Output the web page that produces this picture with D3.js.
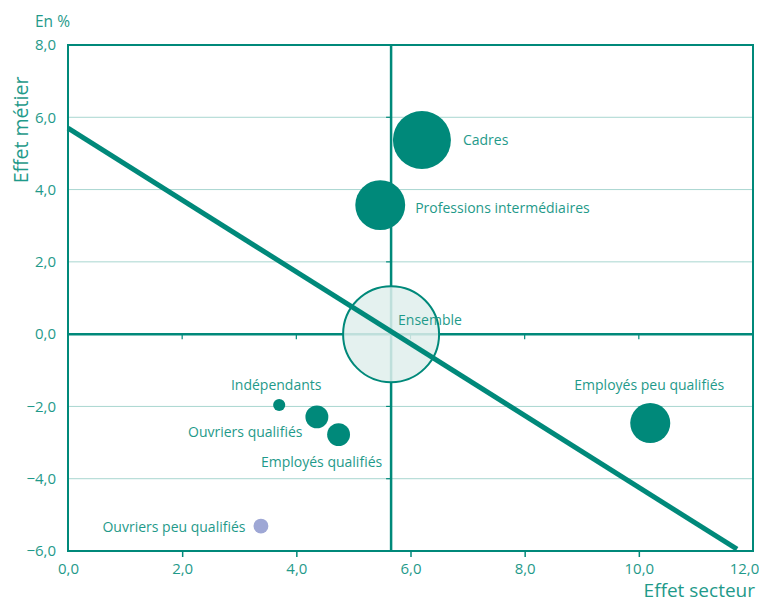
<!DOCTYPE html>
<html>
<head>
<meta charset="utf-8">
<script src="https://cdn.jsdelivr.net/npm/d3@7"></script>
<style>
  body { margin: 0; background: #fff; }
  svg text { font-family: "Open Sans", "Noto Sans", sans-serif; fill: #1f9a8a; }
</style>
</head>
<body>
<svg id="drawing_region"></svg>
<script>
// categories and values (effet secteur, effet metier, poids)
const categories = ["Ensemble", "Cadres", "Professions intermédiaires", "Employés peu qualifiés",
                    "Indépendants", "Ouvriers qualifiés", "Employés qualifiés", "Ouvriers peu qualifiés"];
const effetSecteur = [5.66, 6.2, 5.47, 10.2, 3.70, 4.36, 4.74, 3.38];
const effetMetier  = [0.0, 5.37, 3.57, -2.46, -1.96, -2.29, -2.78, -5.31];
const poids        = [100, 36.5, 27, 17.4, 1.6, 5.7, 5.7, 2.4];
const droite       = [[0, 5.70], [11.72, -5.95]];
const xTicks = [0, 2, 4, 6, 8, 10, 12];
const yTicks = [-6, -4, -2, 0, 2, 4, 6, 8];

const config = {
    width: 759, height: 603,
    margin: {top: 45, right: 6, bottom: 52, left: 68}
};
const dark = "#00897a", grid = "#a9d6d0", light = "#dfeeec";

const svg = d3.select("#drawing_region")
    .attr("width", config.width)
    .attr("height", config.height);

const inner_width = config.width - config.margin.left - config.margin.right;
const inner_height = config.height - config.margin.top - config.margin.bottom;

const chart = svg.append("g")
    .attr("transform", `translate(${config.margin.left}, ${config.margin.top})`);

const xscale = d3.scaleLinear().domain([0, 12]).range([0, inner_width]);
const yscale = d3.scaleLinear().domain([-6, 8]).range([inner_height, 0]);
const rscale = d3.scaleSqrt().domain([0, 100]).range([0, 48]);
const fmt = d => d3.format(".1f")(d).replace(".", ",");

// gridlines
chart.selectAll(".grid")
    .data(yTicks.filter(d => d > -6 && d < 8 && d !== 0))
    .enter().append("line")
    .attr("x1", 0).attr("x2", inner_width)
    .attr("y1", d => yscale(d)).attr("y2", d => yscale(d))
    .attr("stroke", grid).attr("stroke-width", 1);

// frame
chart.append("rect")
    .attr("width", inner_width).attr("height", inner_height)
    .attr("fill", "none").attr("stroke", dark).attr("stroke-width", 2);

// x axis
const xaxis = d3.axisBottom(xscale).tickValues(xTicks).tickFormat(fmt).tickSize(6).tickPadding(6);
const xg = chart.append("g").attr("transform", `translate(0, ${inner_height})`).call(xaxis);
xg.select(".domain").remove();
xg.selectAll(".tick line").attr("stroke", dark).attr("stroke-width", 1.5)
    .attr("display", d => (d === 0 || d === 12) ? "none" : null);
xg.selectAll(".tick text").style("font-size", "15px").attr("fill", "#1f9a8a")
    .attr("dx", d => d === 12 ? -9 : 0);

// y axis
const yaxis = d3.axisLeft(yscale).tickValues(yTicks).tickFormat(fmt).tickSize(0).tickPadding(12);
const yg = chart.append("g").call(yaxis);
yg.select(".domain").remove();
yg.selectAll(".tick text").style("font-size", "15px").attr("fill", "#1f9a8a");

// reference lines through "Ensemble"
const x0 = xscale(effetSecteur[0]);
chart.append("line")
    .attr("x1", x0).attr("x2", x0).attr("y1", 0).attr("y2", inner_height)
    .attr("stroke", dark).attr("stroke-width", 2.5);
chart.append("line")
    .attr("x1", 0).attr("x2", inner_width).attr("y1", yscale(0)).attr("y2", yscale(0))
    .attr("stroke", dark).attr("stroke-width", 2.5);
// small ticks on the reference lines
chart.selectAll(".vtick")
    .data(yTicks.filter(d => d > -6 && d < 8 && d !== 0))
    .enter().append("line")
    .attr("x1", x0 - 5).attr("x2", x0)
    .attr("y1", d => yscale(d)).attr("y2", d => yscale(d))
    .attr("stroke", dark).attr("stroke-width", 1.2);
chart.selectAll(".htick")
    .data(xTicks.filter(d => d > 0 && d < 12))
    .enter().append("line")
    .attr("x1", d => xscale(d)).attr("x2", d => xscale(d))
    .attr("y1", yscale(0)).attr("y2", yscale(0) + 5)
    .attr("stroke", dark).attr("stroke-width", 1.2);

// bubbles
const data = categories.map((c, i) => ({c: c, x: effetSecteur[i], y: effetMetier[i], p: poids[i]}));

chart.selectAll("circle")
    .data(data)
    .enter().append("circle")
    .attr("cx", d => xscale(d.x))
    .attr("cy", d => yscale(d.y))
    .attr("r", d => rscale(d.p))
    .attr("fill", d => d.c === "Ensemble" ? light : (d.c === "Ouvriers peu qualifiés" ? "#9ea7d5" : dark))
    .attr("fill-opacity", d => d.c === "Ensemble" ? 0.85 : 1)
    .attr("stroke", d => d.c === "Ensemble" ? dark : "none")
    .attr("stroke-width", 2);

// regression line
chart.append("line")
    .attr("x1", xscale(droite[0][0])).attr("y1", yscale(droite[0][1]))
    .attr("x2", xscale(droite[1][0])).attr("y2", yscale(droite[1][1]))
    .attr("stroke", dark).attr("stroke-width", 5);

// labels placed relative to each bubble
const place = {
    "Ensemble":                   {anchor: "start",  dx: d => 7,               dy: d => -14},
    "Cadres":                     {anchor: "start",  dx: d => rscale(d.p) + 12, dy: d => 0},
    "Professions intermédiaires": {anchor: "start",  dx: d => rscale(d.p) + 10, dy: d => 3},
    "Employés peu qualifiés":     {anchor: "middle", dx: d => -1,              dy: d => -38},
    "Indépendants":               {anchor: "middle", dx: d => -3,              dy: d => -20},
    "Ouvriers qualifiés":         {anchor: "end",    dx: d => -rscale(d.p) - 3, dy: d => 15},
    "Employés qualifiés":         {anchor: "middle", dx: d => -17,             dy: d => 27},
    "Ouvriers peu qualifiés":     {anchor: "end",    dx: d => -rscale(d.p) - 8, dy: d => 1}
};
chart.selectAll(".lbl")
    .data(data)
    .enter().append("text")
    .attr("x", d => xscale(d.x) + place[d.c].dx(d))
    .attr("y", d => yscale(d.y) + place[d.c].dy(d))
    .attr("dy", "0.35em")
    .attr("text-anchor", d => place[d.c].anchor)
    .style("font-size", "14px")
    .text(d => d.c);

// titles
svg.append("text").attr("x", 35).attr("y", 27).style("font-size", "15.5px").text("En %");
svg.append("text").attr("x", 755).attr("y", 597).attr("text-anchor", "end")
    .style("font-size", "19px").text("Effet secteur");
svg.append("text").attr("transform", "translate(28, 130) rotate(-90)")
    .attr("text-anchor", "middle").style("font-size", "19.5px").text("Effet métier");
</script>
</body>
</html>
